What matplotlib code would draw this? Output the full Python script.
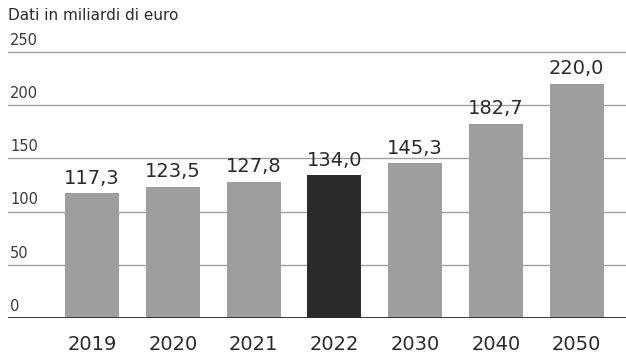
import matplotlib
matplotlib.use("Agg")
import matplotlib.pyplot as plt

# Values in billions of euro
years = ["2019", "2020", "2021", "2022", "2030", "2040", "2050"]
values = [117.3, 123.5, 127.8, 134.0, 145.3, 182.7, 220.0]
highlight = "2022"
y_ticks = [0, 50, 100, 150, 200, 250]
subtitle = "Dati in miliardi di euro"

plt.rcParams["font.family"] = ["DejaVu Sans"]

fig = plt.figure(figsize=(6.26, 3.55), dpi=100)
ax = fig.add_axes([8 / 626, 37 / 355, 618 / 626, 278 / 355])

x = list(range(len(years)))
colors = ["#2b2b2b" if y == highlight else "#9e9e9e" for y in years]

ax.set_xlim(-1.04, 6.61)
ax.set_ylim(0, 261.3)

# horizontal gridlines with labels sitting on top of them
for t in y_ticks[1:]:
    ax.axhline(t, color="#a0a0a0", linewidth=1.0, zorder=1)
for t in y_ticks:
    ax.annotate(str(t), xy=(0, t), xycoords=("axes fraction", "data"),
                xytext=(1.5, 3), textcoords="offset points",
                ha="left", va="bottom", fontsize=10.5, color="#3a3a3a")

ax.bar(x, values, width=0.67, color=colors, zorder=2)
ax.axhline(0, color="#2a2a2a", linewidth=2.0, zorder=3)

for xi, v in zip(x, values):
    ax.annotate(f"{v:.1f}".replace(".", ","), xy=(xi, v),
                xytext=(0, 4), textcoords="offset points",
                ha="center", va="bottom", fontsize=14, color="#2a2a2a")

ax.set_xticks(x)
ax.set_xticklabels(years, fontsize=14, color="#2a2a2a")
ax.tick_params(axis="x", length=0, pad=12)
ax.set_yticks([])
for s in ax.spines.values():
    s.set_visible(False)

fig.text(8 / 626, 1 - 16 / 355, subtitle, ha="left", va="center",
         fontsize=11, color="#2a2a2a")

fig.savefig("out.png", dpi=100, facecolor="white")
